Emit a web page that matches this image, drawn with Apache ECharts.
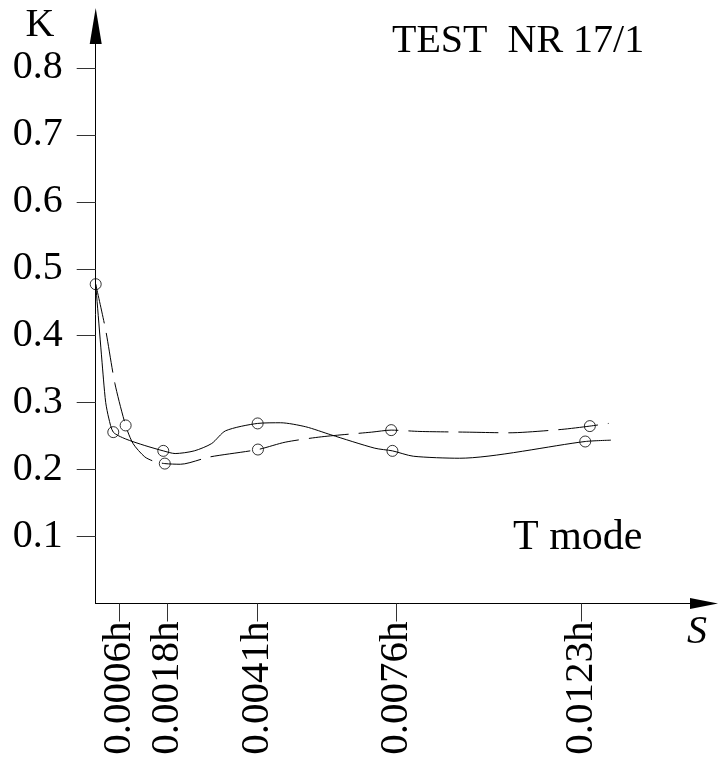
<!DOCTYPE html>
<html>
<head>
    <meta charset="utf-8">
    <title>K - S</title>
    <script src="https://cdn.jsdelivr.net/npm/echarts@6.0.0/dist/echarts.min.js"></script>
    <style>
        html, body { margin: 0; padding: 0; background: #fff; }
        #chart { width: 718px; height: 762px; }
    </style>
</head>
<body>
<div id="chart"></div>
<script type="text/javascript">
// tick values (h) and labels
var xTicks = [0.0006, 0.0018, 0.0041, 0.0076, 0.0123];
var xTickLabels = ['0.0006h', '0.0018h', '0.0041h', '0.0076h', '0.0123h'];
var yTicks = [0.1, 0.2, 0.3, 0.4, 0.5, 0.6, 0.7, 0.8];

// measured points (circles)
var solidPoints = [[0, 0.477], [0.000445, 0.256], [0.001711, 0.228], [0.0041, 0.269], [0.007512, 0.228], [0.012393, 0.242]];
var dashedPoints = [[0.000758, 0.266], [0.001749, 0.209], [0.004107, 0.230], [0.007481, 0.259], [0.01251, 0.265]];

// curves
var solidCurve = [
    [0, 0.477], [0.000198, 0.334], [0.000254, 0.300], [0.00033, 0.277], [0.000445, 0.256],
    [0.000749, 0.246], [0.001243, 0.236], [0.001711, 0.228], [0.002011, 0.224], [0.002495, 0.228],
    [0.002937, 0.239], [0.003288, 0.258], [0.0041, 0.269], [0.00468, 0.270], [0.005317, 0.264],
    [0.005954, 0.252], [0.007066, 0.232], [0.007512, 0.228], [0.008041, 0.220], [0.009211, 0.217],
    [0.012393, 0.242], [0.013044, 0.244]
];
var dashedCurve = [
    [0, 0.477], [0.000254, 0.408], [0.000485, 0.329], [0.000758, 0.266], [0.000945, 0.239],
    [0.001243, 0.219], [0.001493, 0.212], [0.001749, 0.209], [0.002144, 0.208], [0.002892, 0.219],
    [0.004107, 0.230], [0.004799, 0.241], [0.005715, 0.249], [0.006987, 0.256], [0.007481, 0.259],
    [0.008209, 0.257], [0.009379, 0.256], [0.010464, 0.255], [0.011784, 0.260], [0.01251, 0.265],
    [0.012986, 0.269]
];

var FONT = '"Liberation Serif", "DejaVu Serif", serif';

var myChart = echarts.init(document.getElementById('chart'), null, { renderer: 'canvas' });

var option = {
    animation: false,
    backgroundColor: '#fff',
    grid: {
        left: 95.7,
        right: 14,
        top: 26,
        bottom: 158.5,
        containLabel: false,
        outerBoundsMode: 'none'
    },
    xAxis: {
        type: 'value',
        min: 0,
        max: 0.0154,
        axisLine: {
            show: true,
            symbol: ['none', 'triangle'],
            symbolSize: [11, 28],
            lineStyle: { color: '#000', width: 1 }
        },
        axisTick: {
            show: true,
            length: 18,
            customValues: xTicks,
            lineStyle: { color: '#333', width: 1 }
        },
        axisLabel: {
            show: true,
            rotate: 90,
            margin: 18,
            customValues: xTicks,
            color: '#000',
            fontFamily: FONT,
            fontSize: 41,
            formatter: function (v) {
                var i = xTicks.indexOf(v);
                return i >= 0 ? xTickLabels[i] : '';
            }
        },
        splitLine: { show: false }
    },
    yAxis: {
        type: 'value',
        min: 0,
        max: 0.8627,
        axisLine: {
            show: true,
            symbol: ['none', 'triangle'],
            symbolSize: [12, 36],
            lineStyle: { color: '#000', width: 1 }
        },
        axisTick: {
            show: true,
            length: 19,
            customValues: yTicks,
            lineStyle: { color: '#333', width: 1 }
        },
        axisLabel: {
            show: true,
            margin: 33,
            customValues: yTicks,
            color: '#000',
            fontFamily: FONT,
            fontSize: 40,
            formatter: function (v) { return v.toFixed(1); }
        },
        splitLine: { show: false }
    },
    graphic: [
        { type: 'text', x: 40, y: 25, style: { text: 'K', font: '40px ' + FONT, fill: '#000', align: 'center', verticalAlign: 'middle' } },
        { type: 'text', x: 392, y: 41, style: { text: 'TEST  NR 17/1', font: '40px ' + FONT, fill: '#000', align: 'left', verticalAlign: 'middle' } },
        { type: 'text', x: 513, y: 538, style: { text: 'T mode', font: '42px ' + FONT, fill: '#000', align: 'left', verticalAlign: 'middle' } },
        { type: 'text', x: 697, y: 632, style: { text: 'S', font: 'italic 40px ' + FONT, fill: '#000', align: 'center', verticalAlign: 'middle' } }
    ],
    series: [
        {
            name: 'solid',
            type: 'line',
            data: solidCurve,
            showSymbol: false,
            smooth: 0.25,
            lineStyle: { color: '#000', width: 1 },
            z: 2
        },
        {
            name: 'dashed',
            type: 'line',
            data: dashedCurve,
            showSymbol: false,
            smooth: 0.25,
            lineStyle: { color: '#000', width: 1, type: [40, 10] },
            z: 2
        },
        {
            name: 'solid points',
            type: 'scatter',
            data: solidPoints,
            symbol: 'circle',
            symbolSize: 11,
            itemStyle: { color: 'rgba(0,0,0,0)', borderColor: '#000', borderWidth: 1 },
            z: 3
        },
        {
            name: 'dashed points',
            type: 'scatter',
            data: dashedPoints,
            symbol: 'circle',
            symbolSize: 11,
            itemStyle: { color: 'rgba(0,0,0,0)', borderColor: '#000', borderWidth: 1 },
            z: 3
        }
    ]
};

myChart.setOption(option);
</script>
</body>
</html>
